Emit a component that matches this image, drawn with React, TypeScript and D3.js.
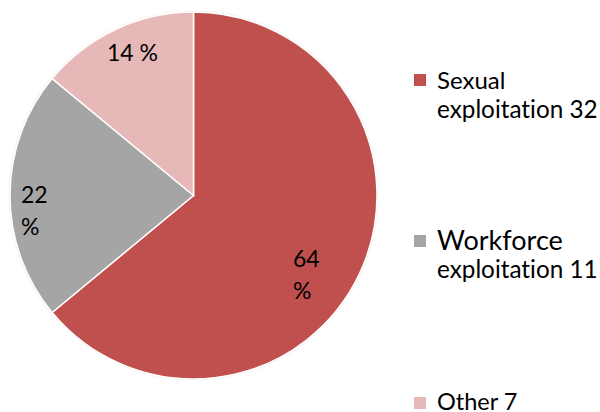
import React from "react";
import * as d3 from "d3";

const categories = ["Sexual exploitation", "Workforce exploitation", "Other"];
const values = [32, 11, 7];
const colors = ["#C0504D", "#A5A5A5", "#E6B9B8"];
// label layout (not data): radius fraction, angle nudge (deg), wrap
const labelRadius = [0.743, 0.879, 0.845];
const labelAngleNudge = [10, -5.5, 2];
const labelWrap = [true, true, false];
const legendFirst = ["Sexual", "Workforce", "Other 7"];
const legendSecond = ["exploitation 32", "exploitation 11", ""];
const legendY = [74, 235, 397];
const legendTextDy = [15, 15, 13];
const legendFirstSize = [24, 27, 23.5];

const W = 600;
const H = 412;
const cx = 193.5;
const cy = 195.5;
const R = 183.5;
const FONT = "Lato, 'Open Sans', sans-serif";
const FS = 23;
const LH = 32;

export default function App() {
  const pie = d3.pie<number>().sort(null).value((d) => d)(values);
  const arc = d3.arc<d3.PieArcDatum<number>>().innerRadius(0).outerRadius(R);
  const total = d3.sum(values);
  return (
    <svg
      width={W}
      height={H}
      style={{ position: "absolute", left: 0, top: 0, background: "#fff", fontVariantLigatures: "none" }}
      fontFamily={FONT}
    >
      <defs>
        <filter id="sh" x="-10%" y="-10%" width="120%" height="120%">
          <feDropShadow dx="0" dy="0" stdDeviation="1" floodColor="#000" floodOpacity="0.25" />
        </filter>
      </defs>
      <g transform={`translate(${cx},${cy})`}>
        <circle r={R} fill="#fff" filter="url(#sh)" />
        {pie.map((p, i) => (
          <path key={i} d={arc(p) || ""} fill={colors[i]} stroke="#fff" strokeWidth={1.5} />
        ))}
        {pie.map((p, i) => {
          const mid = (p.startAngle + p.endAngle) / 2 + (labelAngleNudge[i] * Math.PI) / 180;
          const r = R * labelRadius[i];
          const x = r * Math.sin(mid);
          const y = -r * Math.cos(mid);
          const pct = d3.format(".0f")((values[i] / total) * 100);
          const lines = labelWrap[i] ? [pct, "%"] : [`${pct} %`];
          const y0 = y - ((lines.length - 1) * LH) / 2 + 8.5;
          const wrapped = lines.length > 1;
          const tx = wrapped ? x - 12 : x;
          return (
            <text
              key={i}
              x={tx}
              y={y0}
              fontSize={FS}
              fill="#000"
              textAnchor={wrapped ? "start" : "middle"}
            >
              {lines.map((l, j) => (
                <tspan key={j} x={tx} y={y0 + j * LH}>
                  {l}
                </tspan>
              ))}
            </text>
          );
        })}
      </g>
      {categories.map((c, i) => (
        <g key={c} transform={`translate(414,${legendY[i]})`}>
          <rect width={12} height={12} fill={colors[i]} />
          <text x={23} y={legendTextDy[i]} fontSize={legendFirstSize[i]} fill="#000">
            {legendFirst[i]}
          </text>
          {legendSecond[i] && (
            <text x={23} y={i === 0 ? 44 : 43} fontSize={24.3} fill="#000">
              {legendSecond[i]}
            </text>
          )}
        </g>
      ))}
    </svg>
  );
}
